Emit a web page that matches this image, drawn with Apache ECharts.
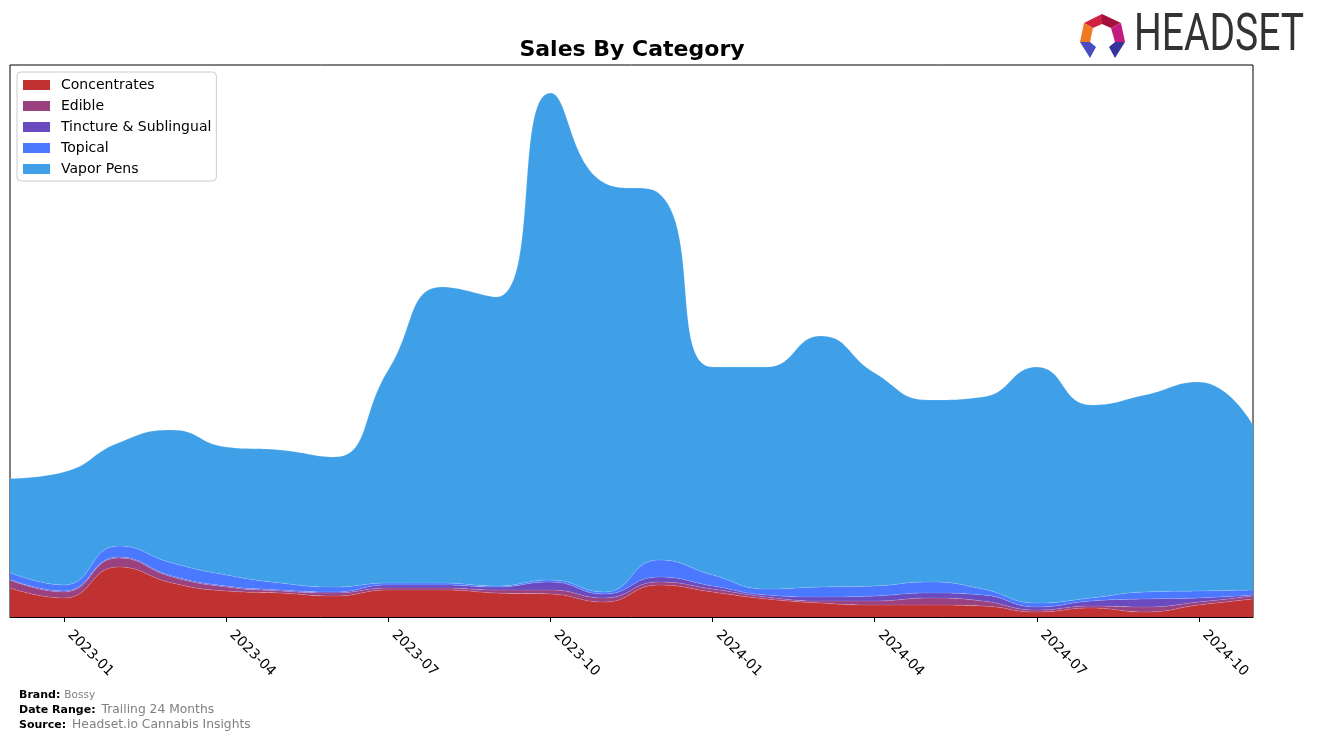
<!DOCTYPE html>
<html><head><meta charset="utf-8">
<script src="https://cdn.jsdelivr.net/npm/echarts@6/dist/echarts.min.js"></script>
<style>html,body{margin:0;padding:0;background:#fff}#c{width:1317px;height:740px}</style>
</head><body><div id="c"></div><script>
var months = ['2022-12','2023-01','2023-02','2023-03','2023-04','2023-05','2023-06','2023-07','2023-08','2023-09','2023-10','2023-11','2023-12','2024-01','2024-02','2024-03','2024-04','2024-05','2024-06','2024-07','2024-08','2024-09','2024-10','2024-11'];
var concentrates = [29,19,50,34,26,24,21,27,27,24,23,15,32,25,18,14,12,12,11,5,9,5,12,18];
var edible       = [8,6,9,6,4,2,3,2,2,3,4,4,3,3,2,2,4,7,5,2,2,5,3,3];
var tincture     = [0.5,1,1,1,1,1,1,3,3,3,8,4,5,3,2,4,5,5,6,3,5,8,4,1];
var topical      = [7,6,11,13,11,7,5,2,2,1,2,2,17,11,6,10,10,11,6,4,3,7,7,5];
var vaporPens    = [94,113,103,133,128,133,130,213,296,289,487,409,367,208,222,251,213,182,192,236,193,197,209,165];
var seriesNames = ['Concentrates','Edible','Tincture & Sublingual','Topical','Vapor Pens'];
var seriesData = [concentrates, edible, tincture, topical, vaporPens];
var colors = ['#C03232','#9A4180','#6A4BBF','#4A78FF','#3FA0E8'];

var chart = echarts.init(document.getElementById('c'));
var FONT = 'DejaVu Sans';
function showIdx(i){ return i % 3 === 1; }
chart.setOption({
  animation: false,
  backgroundColor: '#fff',
  grid: {left: 10, right: 64, top: 65, bottom: 123, show: true, borderColor: '#000', borderWidth: 1, backgroundColor: 'transparent'},
  legend: {
    data: seriesNames, orient: 'vertical', left: 17, top: 72,
    icon: 'rect', itemWidth: 27, itemHeight: 10, itemGap: 7,
    padding: [6, 5, 5, 6],
    borderColor: '#cccccc', borderWidth: 1, borderRadius: 4, backgroundColor: '#fff',
    textStyle: {fontFamily: FONT, fontSize: 14, color: '#000', padding: [0,0,0,6]}
  },
  xAxis: {
    type: 'category', data: months, boundaryGap: false,
    axisLine: {show: true, lineStyle: {color: '#000', width: 1}},
    axisTick: {show: true, interval: function(i){return showIdx(i);}, length: 5, lineStyle: {color: '#000'}},
    axisLabel: {interval: function(i){return showIdx(i);}, rotate: -45, fontFamily: FONT, fontSize: 14, color: '#000', margin: 10, padding: [0,0,0,8]},
    splitLine: {show: false}
  },
  yAxis: {type: 'value', min: 0, max: 552, show: false, splitLine: {show: false}},
  series: seriesNames.map(function(n, k){
    return {
      name: n, type: 'line', stack: 'total', smooth: 0.5, symbol: 'none',
      data: seriesData[k],
      lineStyle: {width: 0.6, color: 'rgba(255,255,255,0.25)'},
      itemStyle: {color: colors[k]},
      areaStyle: {color: colors[k], opacity: 1}
    };
  }),
  graphic: [
    {type: 'text', x: 632, y: 50, style: {text: 'Sales By Category', font: 'bold 22px "DejaVu Sans"', fill: '#000', align: 'center', verticalAlign: 'middle'}},
    {type: 'text', x: 19, y: 695, style: {text: '{b|Brand:}{v|Bossy}', verticalAlign: 'middle', rich: {b: {font: 'bold 11px "DejaVu Sans"', fill: '#000'}, v: {font: '10.5px "DejaVu Sans"', fill: '#808080', padding: [0,0,0,4]}}}},
    {type: 'text', x: 19, y: 710, style: {text: '{b|Date Range:}{v|Trailing 24 Months}', verticalAlign: 'middle', rich: {b: {font: 'bold 11px "DejaVu Sans"', fill: '#000'}, v: {font: '12.3px "DejaVu Sans"', fill: '#808080', padding: [0,0,0,6]}}}},
    {type: 'text', x: 19, y: 725, style: {text: '{b|Source:}{v|Headset.io Cannabis Insights}', verticalAlign: 'middle', rich: {b: {font: 'bold 11px "DejaVu Sans"', fill: '#000'}, v: {font: '12.3px "DejaVu Sans"', fill: '#808080', padding: [0,0,0,6]}}}},
    {type: 'polygon', shape: {points: [[1102,14],[1084,23],[1093,28],[1102,24]]}, style: {fill: '#D0213F'}},
    {type: 'polygon', shape: {points: [[1102,14],[1121,23],[1111,28],[1102,24]]}, style: {fill: '#A3123C'}},
    {type: 'polygon', shape: {points: [[1084,23],[1080,42],[1090,42],[1093,28]]}, style: {fill: '#F07A22'}},
    {type: 'polygon', shape: {points: [[1121,23],[1125,42],[1115,42],[1111,28]]}, style: {fill: '#C11C7E'}},
    {type: 'polygon', shape: {points: [[1080,42],[1090,58],[1096,47],[1090,42]]}, style: {fill: '#4A4CC0'}},
    {type: 'polygon', shape: {points: [[1125,42],[1115,58],[1109,47],[1115,42]]}, style: {fill: '#35349E'}},
    {type: 'text', x: 1134, y: 37, scaleX: 0.75, style: {text: 'HEADSET', font: '52px Roboto', fill: '#333333', verticalAlign: 'middle'}}
  ]
});
</script></body></html>
